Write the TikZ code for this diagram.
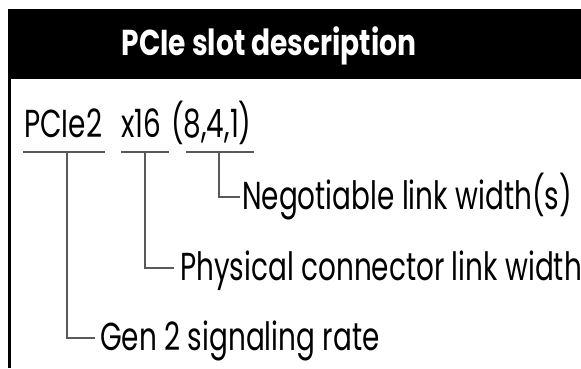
\documentclass[tikz,border=0pt]{standalone}
\usepackage{fontspec}
\setmainfont{Poppins}[FakeStretch=0.715]
\newfontfamily\titlefont{Poppins}[FakeStretch=0.78]
\begin{document}
\begin{tikzpicture}[x=1pt,y=-1pt,
  lbl/.style={inner sep=0pt, anchor=base west, font=\fontsize{39}{44}\selectfont},
  conn/.style={draw=black!65, line width=1.5pt}]
\useasboundingbox (0,0) rectangle (581,368);
\fill[black] (8,9) rectangle (581,79);
\draw[line width=3pt] (9.5,79) -- (9.5,368);
\node[inner sep=0pt, anchor=base, text=white, font=\titlefont\fontsize{36}{40}\bfseries\selectfont] (title) at (269,55) {PCIe slot description};
% main string
\node[lbl] (a) at (24,137) {PCIe2};
\node[lbl] (b) at (121,137) {x16};
\node[lbl] (c) at (171,137) {(8,4,1)};
% underlines
\coordinate (a1) at (23,152); \coordinate (a2) at (105,152);
\coordinate (b1) at (121,152); \coordinate (b2) at (169,152);
\coordinate (c1) at (186,152); \coordinate (c2) at (254,152);
\draw[conn] (a1) -- (a2);
\draw[conn] (b1) -- (b2);
\draw[conn] (c1) -- (c2);
\coordinate (av) at (67,152);
\coordinate (bv) at (145,152);
\coordinate (cv) at (219,152);
% labels
\node[lbl] (nc) at (242,209) {Negotiable link width(s)};
\node[lbl] (nb) at (180,280) {Physical connector link width};
\node[lbl] (na) at (100,350) {Gen 2 signaling rate};
\coordinate (ce) at (240,197);
\coordinate (be) at (174,268);
\coordinate (ae) at (95,338);
\draw[conn] (cv) |- (ce);
\draw[conn] (bv) |- (be);
\draw[conn] (av) |- (ae);
\end{tikzpicture}
\end{document}
